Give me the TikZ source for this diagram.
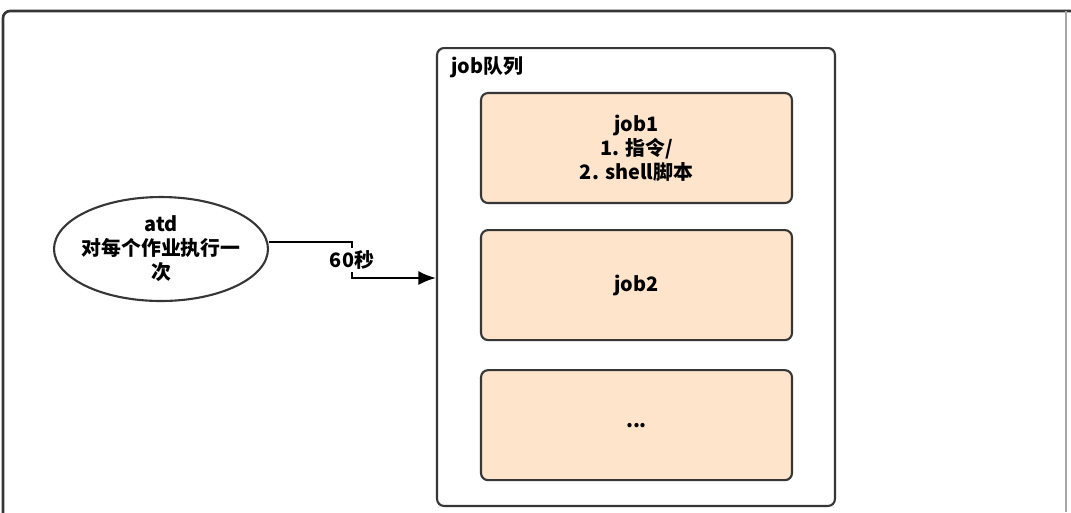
\documentclass[tikz,border=0pt]{standalone}
\usepackage{fontspec}
\setmainfont{Noto Sans CJK SC}
\usepackage{tikz}
\usetikzlibrary{positioning,shapes.geometric,arrows.meta}
\definecolor{jobfill}{HTML}{FDE4CB}
\definecolor{edge}{HTML}{363636}
\tikzset{
  % Specifications for style of nodes:
  base/.style = {
    rectangle,
    rounded corners=4pt,
    draw=edge,
    line width=1.2pt,
    text centered,
    align=center,
    font=\fontsize{11.3}{13.6}\selectfont\bfseries
  },
  queue/.style = {
    base,
    fill=white,
    minimum width=7.96cm,
    minimum height=9.16cm
  },
  job/.style = {
    base,
    fill=jobfill,
    minimum width=6.22cm,
    minimum height=2.2cm
  },
  daemon/.style = {
    base,
    ellipse,
    fill=white,
    inner xsep=-3pt,
    inner ysep=0pt,
    minimum width=4.28cm,
    minimum height=2.08cm
  },
  link/.style = {
    draw=black,
    line width=1.3pt,
    -{Latex[length=10pt,width=8pt]}
  },
}
\begin{document}
\begin{tikzpicture}[x=0.02cm, y=-0.02cm]
    \useasboundingbox (0, 0) rectangle (1071, 512);
    % Outer frame (runs past the right and bottom edges)
    \draw[edge, line width=1.5pt, rounded corners=4pt] (3, 11) rectangle (1100, 540);
    \draw[gray!70, line width=1.2pt] (1066, 11) -- (1066, 512);
    % Specification of nodes (position, etc.)
    \node[daemon] (atd) at (161, 249) {atd\\对每个作业执行一\\次};
    \node[queue] (queue) at (636, 277) {};
    \node[base, draw=none, fill=none, anchor=north west, inner sep=0pt]
        at ([xshift=0.28cm, yshift=-0.18cm]queue.north west) {job队列};
    \node[job] (job1) at (636.5, 148) {job1\\1. 指令/\\2. shell脚本};
    \node[job, below=0.5cm of job1] (job2) {job2};
    \node[job, below=0.56cm of job2] (jobn) {...};
    % Connector
    \coordinate (bendA) at (352, 242);
    \coordinate (bendB) at (352, 278);
    \draw[link] (atd.east |- bendA) -- (bendA) -- (bendB)
        node[midway, fill=white, inner xsep=1pt, inner ysep=1.5pt,
             font=\fontsize{11.3}{13.6}\selectfont\bfseries] {60秒}
        -- (bendB -| queue.west);
\end{tikzpicture}
\end{document}
